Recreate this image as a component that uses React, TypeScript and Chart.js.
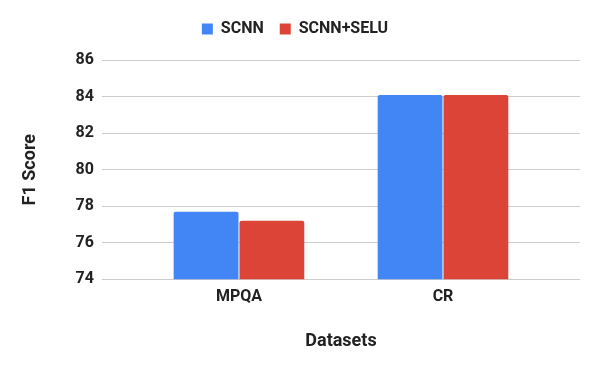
import React, { useEffect, useRef } from "react";
import { Chart, registerables } from "chart.js";

Chart.register(...registerables);

const categories = ["MPQA", "CR"];
const seriesNames = ["SCNN", "SCNN+SELU"];
const scnnValues = [77.7, 84.1];
const scnnSeluValues = [77.2, 84.1];
const seriesColors = ["#4285F4", "#DB4437"];
const yMin = 74;
const yMax = 86;
const yStep = 2;

export default function App() {
  const ref = useRef<HTMLCanvasElement | null>(null);
  useEffect(() => {
    document.body.style.margin = "0";
    const font = { family: "Roboto", weight: "bold" as const, size: 16 };
    const titleFont = { family: "Roboto", weight: "bold" as const, size: 18 };
    const textColor = "#222222";
    const gridColor = "#cccccc";
    const chart = new Chart(ref.current!, {
      type: "bar",
      data: {
        labels: categories,
        datasets: [
          {
            label: seriesNames[0],
            data: scnnValues,
            backgroundColor: seriesColors[0],
            borderRadius: { topLeft: 2, topRight: 2 },
            borderSkipped: "bottom",
          },
          {
            label: seriesNames[1],
            data: scnnSeluValues,
            backgroundColor: seriesColors[1],
            borderRadius: { topLeft: 2, topRight: 2 },
            borderSkipped: "bottom",
          },
        ],
      },
      options: {
        responsive: false,
        animation: false,
        layout: { padding: { left: 10, right: 20, top: 5, bottom: 19 } },
        datasets: { bar: { categoryPercentage: 0.645, barPercentage: 0.985 } },
        plugins: {
          legend: {
            position: "top",
            labels: {
              font,
              color: textColor,
              boxWidth: 11,
              boxHeight: 11,
              padding: 16,
            },
          },
          subtitle: {
            display: true,
            text: "",
            weight: 500,
            font: { size: 1 },
            padding: { top: 0, bottom: 12 },
          } as any,
          tooltip: { enabled: false },
        },
        scales: {
          x: {
            grid: { display: false },
            border: { display: false },
            ticks: { font, color: textColor, padding: 0 },
            title: {
              display: true,
              text: "Datasets",
              font: titleFont,
              color: textColor,
              padding: { top: 24, bottom: 0 },
            },
          },
          y: {
            min: yMin,
            max: yMax,
            ticks: { stepSize: yStep, font, color: textColor, padding: 8 },
            grid: { color: gridColor, tickLength: 35, tickColor: gridColor },
            border: { display: false },
            title: {
              display: true,
              text: "F1 Score",
              font: titleFont,
              color: textColor,
              padding: { top: 10, bottom: 26 },
            },
          },
          y2: {
            position: "right",
            min: yMin,
            max: yMax,
            ticks: { stepSize: yStep, display: false },
            grid: {
              drawOnChartArea: false,
              color: gridColor,
              tickLength: 35,
            },
            border: { display: false },
          },
        },
      },
    });
    return () => chart.destroy();
  }, []);
  return <canvas ref={ref} width={600} height={371} />;
}
